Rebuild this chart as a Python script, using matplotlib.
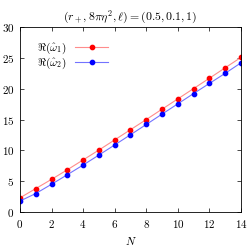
import matplotlib
matplotlib.use("Agg")
import matplotlib.pyplot as plt
import numpy as np

plt.rcParams['font.family'] = 'cmr10'
plt.rcParams['mathtext.fontset'] = 'cm'
plt.rcParams['axes.formatter.use_mathtext'] = True

N = np.arange(15)
re_w1 = [2.3, 3.8, 5.3, 6.85, 8.45, 10.05, 11.7, 13.35, 15.0, 16.68, 18.35, 20.03, 21.7, 23.4, 25.08]
re_w2 = [1.78, 3.0, 4.5, 6.05, 7.62, 9.24, 10.88, 12.53, 14.2, 15.88, 17.55, 19.22, 20.86, 22.5, 24.2]

fig = plt.figure(figsize=(2.49, 2.48), dpi=100)
ax = fig.add_axes([0.080, 0.145, 0.888, 0.746])

# lignes claires, points pleins
ax.plot(N, re_w1, color=(1, 0.55, 0.55), lw=0.8, marker='o', ms=3.1,
        mfc='red', mec='red', label=r'$\Re(\hat{\omega}_1)$')
ax.plot(N, re_w2, color=(0.45, 0.45, 1), lw=0.8, marker='o', ms=3.1,
        mfc='blue', mec='blue', label=r'$\Re(\hat{\omega}_2)$')

ax.set_xlim(0, 14)
ax.set_ylim(0, 30)
ax.set_xticks(range(0, 15, 2))
ax.set_yticks(range(0, 31, 5))
ax.tick_params(direction='in', top=True, right=True, labelsize=8, length=3, width=0.5, pad=4)
for s in ax.spines.values():
    s.set_linewidth(0.6)

ax.set_xlabel(r'$N$', fontsize=8, labelpad=4)
ax.set_title(r'$(r_+, 8\pi\eta^2, \ell) = (0.5, 0.1, 1)$', fontsize=8.5, pad=5)

ax.legend(loc='upper left', markerfirst=False, frameon=False, fontsize=8,
          handlelength=3.0, handletextpad=0.8, labelspacing=0.05,
          borderaxespad=0.3, bbox_to_anchor=(0.04, 0.97))

fig.savefig("out.png", dpi=100)
